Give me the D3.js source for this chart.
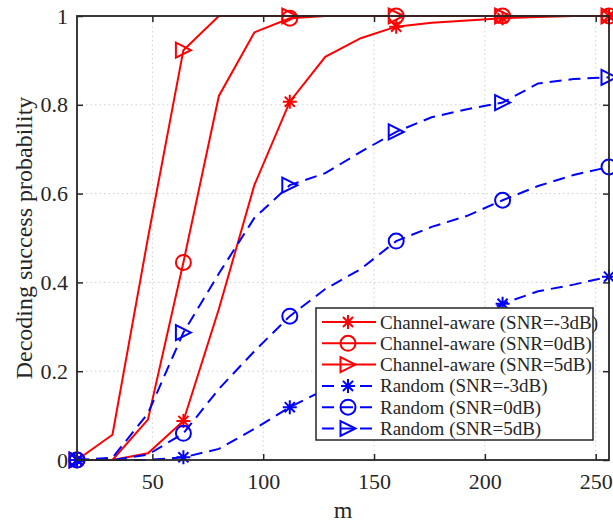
<!DOCTYPE html>
<html>
<head>
<meta charset="utf-8">
<script src="https://cdn.jsdelivr.net/npm/d3@7"></script>
<style>
  html, body { margin: 0; padding: 0; background: #fff; }
  svg { display: block; }
  text { font-family: "Liberation Serif", "Times New Roman", serif; fill: #262626; }
</style>
</head>
<body>
<svg id="chart" width="613" height="523"></svg>
<script>
// Number of measurements m
const mValues = [16, 32, 48, 64, 80, 96, 112, 128, 144, 160, 176, 192, 208, 224, 240, 256];

// Decoding success probability per scheme
const awareM3 = [0, 0, 0.015, 0.088, 0.34, 0.619, 0.807, 0.908, 0.95, 0.976, 0.985, 0.99, 0.995, 0.998, 1, 1];
const aware0  = [0, 0, 0.091, 0.445, 0.82, 0.963, 0.995, 1, 1, 1, 1, 1, 1, 1, 1, 1];
const aware5  = [0, 0.057, 0.5, 0.923, 1, 1, 1, 1, 1, 1, 1, 1, 1, 1, 1, 1];
const randM3  = [0, 0, 0, 0.006, 0.025, 0.07, 0.119, 0.159, 0.2, 0.25, 0.29, 0.32, 0.352, 0.38, 0.395, 0.413];
const rand0   = [0, 0, 0.012, 0.06, 0.16, 0.245, 0.324, 0.385, 0.43, 0.493, 0.525, 0.55, 0.585, 0.617, 0.642, 0.66];
const rand5   = [0, 0.005, 0.105, 0.287, 0.42, 0.545, 0.619, 0.646, 0.694, 0.739, 0.772, 0.79, 0.805, 0.848, 0.858, 0.862];

const xTicks = [50, 100, 150, 200, 250];
const yTicks = [0, 0.2, 0.4, 0.6, 0.8, 1];

const series = [
  { name: "Channel-aware (SNR=-3dB)", values: awareM3, color: "#ff0000", dash: null,   marker: "star" },
  { name: "Channel-aware (SNR=0dB)",  values: aware0,  color: "#ff0000", dash: null,   marker: "circle" },
  { name: "Channel-aware (SNR=5dB)",  values: aware5,  color: "#ff0000", dash: null,   marker: "triangle" },
  { name: "Random (SNR=-3dB)",        values: randM3,  color: "#0000ff", dash: "12,7", marker: "star" },
  { name: "Random (SNR=0dB)",         values: rand0,   color: "#0000ff", dash: "12,7", marker: "circle" },
  { name: "Random (SNR=5dB)",         values: rand5,   color: "#0000ff", dash: "12,7", marker: "triangle" }
];

const svg = d3.select("#chart");
const margin = { left: 77, top: 16, right: 4, bottom: 63 };
const W = 613, H = 523;
const x = d3.scaleLinear().domain([16, 256]).range([margin.left, W - margin.right]);
const y = d3.scaleLinear().domain([0, 1]).range([H - margin.bottom, margin.top]);

const axisColor = "#262626";

// grid
const grid = svg.append("g");
grid.selectAll(".gx").data(xTicks).join("line")
  .attr("x1", d => x(d)).attr("x2", d => x(d))
  .attr("y1", y(0)).attr("y2", y(1))
  .attr("stroke", "#d0d0d0").attr("stroke-width", 1).attr("stroke-dasharray", "1.5,3");
grid.selectAll(".gy").data(yTicks).join("line")
  .attr("y1", d => y(d)).attr("y2", d => y(d))
  .attr("x1", x(16)).attr("x2", x(256))
  .attr("stroke", "#d0d0d0").attr("stroke-width", 1).attr("stroke-dasharray", "1.5,3");

// axes with inward ticks
const tickFont = 22;
const labelFont = 24;
const xAxis = svg.append("g").attr("transform", `translate(0,${y(0)})`)
  .call(d3.axisBottom(x).tickValues(xTicks).tickSize(-6).tickPadding(13).tickFormat(d3.format("d")));
const xAxisTop = svg.append("g").attr("transform", `translate(0,${y(1)})`)
  .call(d3.axisTop(x).tickValues(xTicks).tickSize(-6).tickFormat(""));
const yAxis = svg.append("g").attr("transform", `translate(${x(16)},0)`)
  .call(d3.axisLeft(y).tickValues(yTicks).tickSize(-6).tickPadding(9).tickFormat(d => d === 0 || d === 1 ? d3.format("d")(d) : d3.format(".1f")(d)));
const yAxisRight = svg.append("g").attr("transform", `translate(${x(256)},0)`)
  .call(d3.axisRight(y).tickValues(yTicks).tickSize(-6).tickFormat(""));

[xAxis, xAxisTop, yAxis, yAxisRight].forEach(g => {
  g.select(".domain").remove();
  g.selectAll(".tick line").attr("stroke", axisColor).attr("stroke-width", 1.5);
  g.selectAll(".tick text").attr("font-size", tickFont).attr("fill", axisColor)
    .attr("font-family", "Liberation Serif, serif");
});

// series lines
const line = d3.line().x((d, i) => x(mValues[i])).y(d => y(d));
const markerIdx = [0, 3, 6, 9, 12, 15];

function drawMarker(g, type, cx, cy, color) {
  if (type === "circle") {
    g.append("circle").attr("cx", cx).attr("cy", cy).attr("r", 7.5)
      .attr("fill", "none").attr("stroke", color).attr("stroke-width", 2);
  } else if (type === "triangle") {
    const s = 7.5;
    g.append("path").attr("d", `M${cx + s},${cy} L${cx - s},${cy - s} L${cx - s},${cy + s} Z`)
      .attr("fill", "none").attr("stroke", color).attr("stroke-width", 2);
  } else {
    const s = 7;
    const d = s * 0.72;
    g.append("path")
      .attr("d", `M${cx},${cy - s}L${cx},${cy + s}M${cx - s},${cy}L${cx + s},${cy}` +
                 `M${cx - d},${cy - d}L${cx + d},${cy + d}M${cx - d},${cy + d}L${cx + d},${cy - d}`)
      .attr("fill", "none").attr("stroke", color).attr("stroke-width", 2);
  }
}

const plot = svg.append("g");
series.forEach(s => {
  plot.append("path").datum(s.values).attr("d", line)
    .attr("fill", "none").attr("stroke", s.color).attr("stroke-width", 2)
    .attr("stroke-dasharray", s.dash);
  markerIdx.forEach(i => drawMarker(plot, s.marker, x(mValues[i]), y(s.values[i]), s.color));
});

// frame
svg.append("rect").attr("x", x(16)).attr("y", y(1))
  .attr("width", x(256) - x(16)).attr("height", y(0) - y(1))
  .attr("fill", "none").attr("stroke", axisColor).attr("stroke-width", 1.8);

// axis titles
svg.append("text").attr("x", (x(16) + x(256)) / 2).attr("y", 518)
  .attr("text-anchor", "middle").attr("font-size", labelFont).text("m");
svg.append("text")
  .attr("transform", `translate(32,${(y(0) + y(1)) / 2}) rotate(-90)`)
  .attr("text-anchor", "middle").attr("font-size", labelFont).text("Decoding success probability");

// legend
const lg = svg.append("g").attr("transform", "translate(316,308)");
lg.append("rect").attr("width", 277).attr("height", 132)
  .attr("fill", "#fff").attr("stroke", axisColor).attr("stroke-width", 1.5);
series.forEach((s, i) => {
  const cy = 14 + i * 21.3;
  lg.append("line").attr("x1", 6).attr("x2", 60).attr("y1", cy).attr("y2", cy)
    .attr("stroke", s.color).attr("stroke-width", 2).attr("stroke-dasharray", s.dash ? "12,7" : null);
  drawMarker(lg, s.marker, 32, cy, s.color);
  lg.append("text").attr("x", 64).attr("y", cy + 6.5).attr("font-size", 19).text(s.name);
});
</script>
</body>
</html>
